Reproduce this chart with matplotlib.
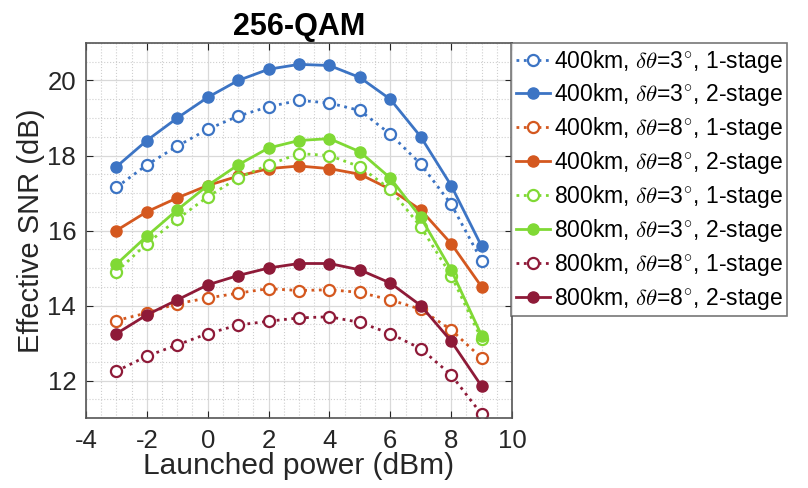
import matplotlib.pyplot as plt
from matplotlib.ticker import MultipleLocator

plt.rcParams['font.family'] = ['Liberation Sans', 'DejaVu Sans']
plt.rcParams['mathtext.fontset'] = 'cm'
plt.rcParams['axes.unicode_minus'] = False

power = [-3, -2, -1, 0, 1, 2, 3, 4, 5, 6, 7, 8, 9]

snr_400_3_1 = [17.15, 17.75, 18.25, 18.7, 19.05, 19.3, 19.47, 19.4, 19.2, 18.57, 17.77, 16.7, 15.2]
snr_400_3_2 = [17.7, 18.4, 19.0, 19.55, 20.0, 20.3, 20.43, 20.4, 20.08, 19.5, 18.5, 17.2, 15.58]
snr_400_8_1 = [13.6, 13.8, 14.05, 14.2, 14.33, 14.45, 14.4, 14.42, 14.35, 14.15, 13.9, 13.35, 12.6]
snr_400_8_2 = [16.0, 16.5, 16.87, 17.2, 17.45, 17.65, 17.72, 17.65, 17.5, 17.1, 16.55, 15.65, 14.5]
snr_800_3_1 = [14.9, 15.65, 16.3, 16.9, 17.4, 17.75, 18.05, 18.0, 17.7, 17.1, 16.1, 14.8, 13.1]
snr_800_3_2 = [15.1, 15.85, 16.55, 17.2, 17.75, 18.2, 18.4, 18.45, 18.1, 17.4, 16.35, 14.95, 13.2]
snr_800_8_1 = [12.25, 12.65, 12.95, 13.25, 13.48, 13.58, 13.67, 13.7, 13.55, 13.25, 12.85, 12.15, 11.1]
snr_800_8_2 = [13.25, 13.75, 14.15, 14.55, 14.8, 15.0, 15.12, 15.12, 14.95, 14.6, 14.0, 13.05, 11.85]

labels = [
    r'400km, $\delta\theta$=3$^{\circ}$, 1-stage',
    r'400km, $\delta\theta$=3$^{\circ}$, 2-stage',
    r'400km, $\delta\theta$=8$^{\circ}$, 1-stage',
    r'400km, $\delta\theta$=8$^{\circ}$, 2-stage',
    r'800km, $\delta\theta$=3$^{\circ}$, 1-stage',
    r'800km, $\delta\theta$=3$^{\circ}$, 2-stage',
    r'800km, $\delta\theta$=8$^{\circ}$, 1-stage',
    r'800km, $\delta\theta$=8$^{\circ}$, 2-stage',
]
series = [snr_400_3_1, snr_400_3_2, snr_400_8_1, snr_400_8_2,
          snr_800_3_1, snr_800_3_2, snr_800_8_1, snr_800_8_2]
colors = ['#3C74C4', '#3C74C4', '#D4581F', '#D4581F',
          '#80D935', '#80D935', '#8E1A38', '#8E1A38']

fig = plt.figure(figsize=(8.08, 4.88), dpi=100)
ax = fig.add_axes([0.1064, 0.1434, 0.5273, 0.7685])

for i, (y, lab, c) in enumerate(zip(series, labels, colors)):
    if i % 2 == 0:
        ax.plot(power, y, ':', color=c, lw=2, marker='o', ms=8,
                mfc='white', mec=c, mew=1.6, label=lab)
    else:
        ax.plot(power, y, '-', color=c, lw=2, marker='o', ms=8,
                mfc=c, mec=c, label=lab)

ax.set_xlim(-4, 10)
ax.set_ylim(11, 21)
ax.xaxis.set_major_locator(MultipleLocator(2))
ax.yaxis.set_major_locator(MultipleLocator(2))
ax.xaxis.set_minor_locator(MultipleLocator(0.5))
ax.yaxis.set_minor_locator(MultipleLocator(0.5))
ax.grid(True, which='major', color='#d9d9d9', lw=0.9)
ax.grid(True, which='minor', color='#cfcfcf', ls=':', lw=0.8)
ax.tick_params(which='both', direction='in', top=True, right=True,
               labelsize=18.5, colors='#262626')
ax.tick_params(axis='x', pad=8)
ax.tick_params(axis='y', pad=7)
ax.tick_params(which='minor', length=0)
ax.tick_params(which='major', length=5)
for s in ax.spines.values():
    s.set_color('#555555')
    s.set_linewidth(1.2)

ax.set_xlabel('Launched power (dBm)', fontsize=21.5, color='#262626', labelpad=-1)
ax.set_ylabel('Effective SNR (dB)', fontsize=21, color='#262626', labelpad=2)
ax.set_title('256-QAM', fontsize=22, fontweight='bold', pad=6)

leg = ax.legend(loc='upper left', bbox_to_anchor=(0.998, 1.0), fontsize=16.5,
                frameon=True, fancybox=False, handlelength=1.5,
                handletextpad=0.15, borderaxespad=0, borderpad=0.2,
                labelspacing=0.3)
leg.get_frame().set_edgecolor('#555555')
leg.get_frame().set_linewidth(1.2)

fig.savefig('out.png', dpi=100)
